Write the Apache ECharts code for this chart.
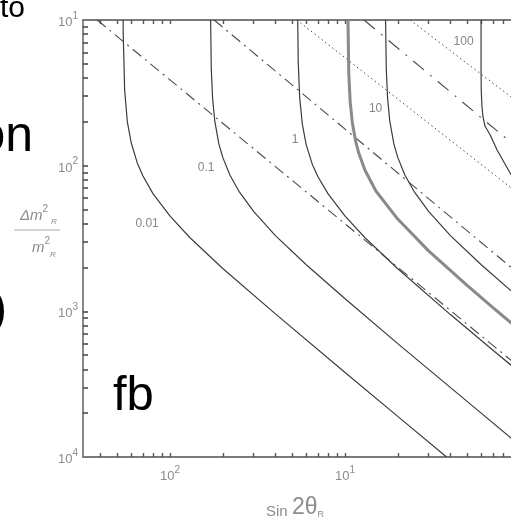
<!DOCTYPE html>
<html><head><meta charset="utf-8">
<script src="https://cdn.jsdelivr.net/npm/echarts@6/dist/echarts.min.js"></script>
<style>html,body{margin:0;padding:0;background:#fff}#c{width:511px;height:520px}</style>
</head><body><div id="c"></div>
<script>
// ---- data (x = sin 2θ_R, y = Δm²_R / m²_R) ----
const xRange = [0.00318, 0.8875];
const yRange = [1e-4, 1e-1];
const xTickExp = [-2, -1];           // labelled decades on x
const yTickExp = [-4, -3, -2, -1];   // labelled decades on y
const contourNames = ['0.01', '0.1', '1', '10', '100'];

const c001 = [[0.00539,0.1],[0.0054,0.08],[0.0055,0.033],[0.0057,0.020],[0.006,0.0143],[0.0065,0.0104],[0.007,0.0085],[0.008,0.0064],[0.01,0.0045],[0.013,0.0032],[0.02,0.00197],[0.04,0.00096],[0.1,0.00038],[0.2,0.00019],[0.38,0.0001]];
const c01  = [[0.01704,0.1],[0.0172,0.0459],[0.0175,0.0289],[0.018,0.0203],[0.019,0.0141],[0.02,0.0114],[0.022,0.0086],[0.025,0.00655],[0.03,0.00485],[0.04,0.00331],[0.06,0.00209],[0.1,0.00122],[0.2,0.0006],[0.5,0.00024],[1,0.00012]];
const c1   = [[0.05363,0.1],[0.054,0.0514],[0.055,0.0296],[0.057,0.0192],[0.06,0.0139],[0.065,0.0102],[0.07,0.0084],[0.08,0.0064],[0.1,0.0045],[0.13,0.0032],[0.2,0.00196],[0.4,0.00095],[0.7,0.00054],[1,0.00038]];
const cThick = [[0.1039,0.1],[0.105,0.0428],[0.107,0.0273],[0.11,0.0198],[0.115,0.0146],[0.12,0.0121],[0.13,0.0093],[0.15,0.0067],[0.2,0.0043],[0.3,0.0026],[0.5,0.0015],[0.7,0.00106],[1,0.00074]];
const c10  = [[0.1704,0.1],[0.172,0.0459],[0.175,0.0289],[0.18,0.0203],[0.19,0.0141],[0.2,0.0114],[0.22,0.0086],[0.25,0.00655],[0.3,0.00485],[0.4,0.00331],[0.6,0.00209],[1,0.00122]];
const c100 = [[0.5985,0.1],[0.5985,0.045],[0.6,0.033],[0.605,0.026],[0.614,0.0216],[0.63,0.0187],[0.674,0.0163],[0.739,0.0128],[0.877,0.0089],[1,0.0071]];

const dashDot1 = [[0.00383,0.1],[1,0.00041]];
const dashDot2 = [[0.01784,0.1],[1,0.00178]];
const dashed1  = [[0.1284,0.1],[1,0.0128]];
const dotted1  = [[0.053,0.1],[1,0.0063]];
const dotted2  = [[0.235,0.1],[1,0.0266]];

// ---- build ----
const L = Math.log10;
const toLog = arr => arr.map(p => [L(p[0]), L(p[1])]);
function minorTicks(lo, hi) {
  const out = [];
  for (let d = Math.floor(L(lo)); d <= Math.ceil(L(hi)); d++) {
    for (let k = 1; k <= 9; k++) {
      const v = L(k) + d;
      if (v >= L(lo) + 1e-6 && v <= L(hi) - 1e-6) out.push(v);
    }
  }
  return out;
}
const gray = '#8c8c8c';
const supFmt = v => '{b|10}{s|' + Math.abs(Math.round(v)) + '}';
const labRich = {
  b: {fontSize: 13, color: gray, fontFamily: 'Liberation Sans', lineHeight: 18, verticalAlign: 'bottom'},
  s: {fontSize: 10, color: gray, fontFamily: 'Liberation Sans', lineHeight: 10, verticalAlign: 'top'}
};
const axisLineStyle = {color: '#7a7a7a', width: 1.8};
const tickStyle = {color: '#555', width: 1.4};

function lineSeries(data, style, z) {
  return {type: 'line', data: toLog(data), symbol: 'none', silent: true,
    lineStyle: style, z: z || 2, animation: false};
}
const solid = {color: '#3c3c3c', width: 1.2};
const ddStyle = {color: '#4a4a4a', width: 1.1, type: [11, 5, 2, 5]};

const chart = echarts.init(document.getElementById('c'));
chart.setOption({
  backgroundColor: '#fff',
  animation: false,
  grid: {left: 83, top: 20, right: 0, bottom: 63},
  xAxis: [{
    type: 'value', min: L(xRange[0]), max: L(xRange[1]), position: 'bottom',
    axisLine: {show: true, lineStyle: axisLineStyle},
    axisTick: {show: true, inside: true, length: 4, customValues: minorTicks(xRange[0], xRange[1]), lineStyle: tickStyle},
    axisLabel: {show: true, customValues: xTickExp, formatter: supFmt, rich: labRich, margin: 8},
    splitLine: {show: false}
  }, {
    type: 'value', min: L(xRange[0]), max: L(xRange[1]), position: 'top', gridIndex: 0,
    axisLine: {show: true, lineStyle: axisLineStyle},
    axisTick: {show: true, inside: true, length: 4, customValues: minorTicks(xRange[0], xRange[1]), lineStyle: tickStyle},
    axisLabel: {show: false}, splitLine: {show: false}
  }],
  yAxis: [{
    type: 'value', min: L(yRange[0]), max: L(yRange[1]), position: 'left',
    axisLine: {show: true, lineStyle: axisLineStyle},
    axisTick: {show: true, inside: true, length: 5, customValues: minorTicks(yRange[0], yRange[1]), lineStyle: {color: '#444', width: 1.5}},
    axisLabel: {show: true, customValues: yTickExp, formatter: supFmt, rich: labRich, margin: 5},
    splitLine: {show: false}
  }],
  series: [
    lineSeries(c001, solid),
    lineSeries(c01, solid),
    lineSeries(c1, solid),
    lineSeries(cThick, {color: '#8a8a8a', width: 3}, 3),
    lineSeries(c10, solid),
    lineSeries(c100, solid),
    lineSeries(dashDot1, ddStyle),
    lineSeries(dashDot2, ddStyle),
    lineSeries(dashed1, {color: '#4a4a4a', width: 1.1, type: [14, 8, 2, 8]}),
    lineSeries(dotted1, {color: '#4a4a4a', width: 1, type: [1.5, 3]}),
    lineSeries(dotted2, {color: '#4a4a4a', width: 1, type: [1.5, 3]}),
    {
      type: 'scatter', symbolSize: 0, silent: true, z: 5,
      data: [[L(0.00739), L(0.00399)], [L(0.01607), L(0.00973)], [L(0.0518), L(0.01503)], [L(0.1494), L(0.02453)], [L(0.4755), L(0.0712)]]
        .map((p, i) => ({value: p, name: contourNames[i]})),
      label: {show: true, position: 'inside', formatter: p => p.name, color: '#666', fontSize: 12, fontFamily: 'Liberation Sans'}
    }
  ],
  graphic: [
    // y axis title (fraction)
    {type: 'text', x: 34, y: 214, style: {text: '{i|Δm}{s|2}', rich: {i: {fontSize: 15, fontStyle: 'italic', fill: gray, fontFamily: 'Liberation Sans', verticalAlign: 'bottom', lineHeight: 19}, s: {fontSize: 10, fill: gray, verticalAlign: 'top', lineHeight: 10}}, align: 'center', verticalAlign: 'middle'}},
    {type: 'text', x: 54, y: 222, style: {text: 'R', fontSize: 8, fontStyle: 'italic', fill: gray, align: 'center', verticalAlign: 'middle'}},
    {type: 'line', shape: {x1: 14, y1: 230, x2: 60, y2: 230}, style: {stroke: '#aaa', lineWidth: 1}},
    {type: 'text', x: 41, y: 246, style: {text: '{i|m}{s|2}', rich: {i: {fontSize: 15, fontStyle: 'italic', fill: gray, fontFamily: 'Liberation Sans', verticalAlign: 'bottom', lineHeight: 19}, s: {fontSize: 10, fill: gray, verticalAlign: 'top', lineHeight: 10}}, align: 'center', verticalAlign: 'middle'}},
    {type: 'text', x: 53, y: 255, style: {text: 'R', fontSize: 8, fontStyle: 'italic', fill: gray, align: 'center', verticalAlign: 'middle'}},
    // x axis title
    {type: 'text', x: 295, y: 508, style: {text: '{a|Sin }{b|2θ}{c|R}', rich: {a: {fontSize: 15, fill: gray, fontFamily: 'Liberation Sans', verticalAlign: 'bottom', lineHeight: 22}, b: {fontSize: 23, fill: gray, fontFamily: 'Liberation Sans', verticalAlign: 'bottom', lineHeight: 22}, c: {fontSize: 9, fill: gray, verticalAlign: 'bottom', lineHeight: 16}}, align: 'center', verticalAlign: 'middle'}},
    // overlapping slide text
    {type: 'text', x: 0, y: 9, style: {text: 'to', fontSize: 30, fontFamily: 'Liberation Sans', fill: '#000', align: 'left', verticalAlign: 'middle'}},
    {type: 'text', x: 33, y: 137, style: {text: 'on', fontSize: 50, fontFamily: 'Liberation Sans', fill: '#000', align: 'right', verticalAlign: 'middle'}},
    {type: 'text', x: 7, y: 311, style: {text: ')', fontSize: 48, fontFamily: 'Liberation Sans', fill: '#000', align: 'right', verticalAlign: 'middle'}},
    {type: 'text', x: 113, y: 396, style: {text: 'fb', fontSize: 49, fontFamily: 'Liberation Sans', fill: '#000', align: 'left', verticalAlign: 'middle'}}
  ]
});
</script></body></html>
